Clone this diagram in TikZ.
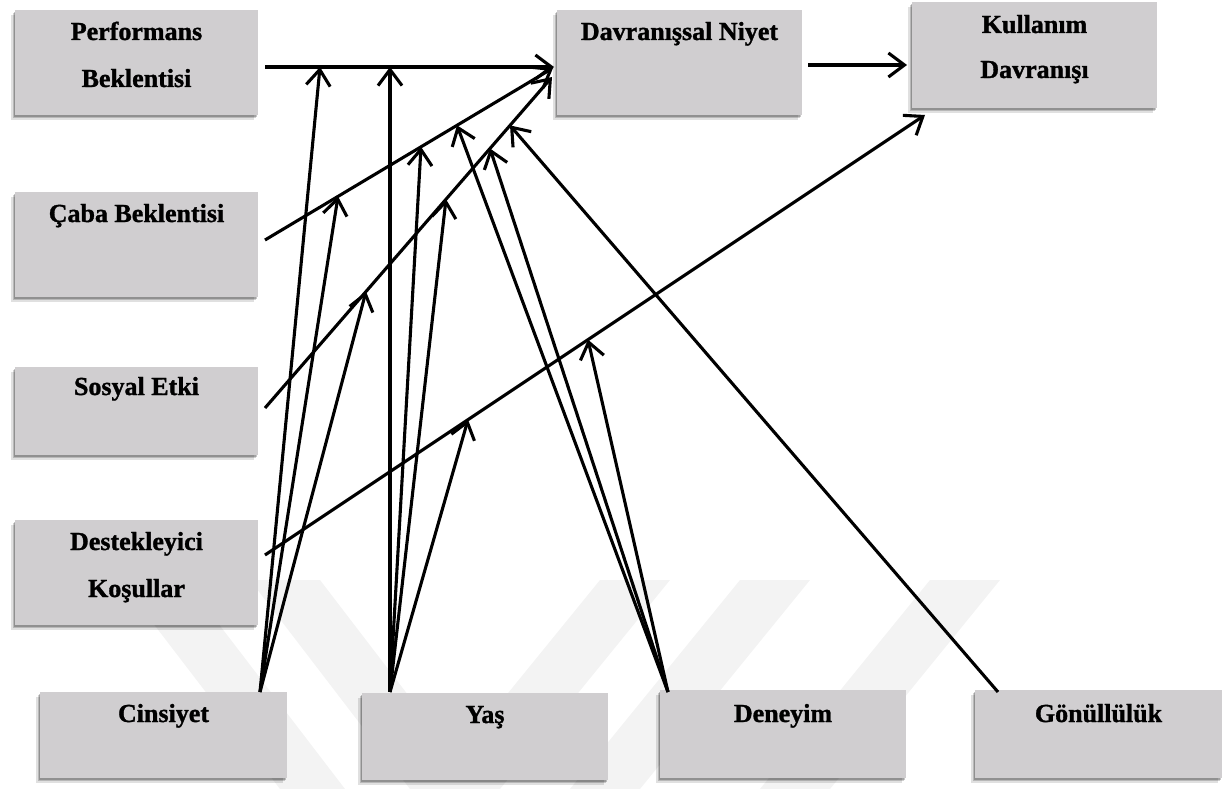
\documentclass[tikz,border=0pt]{standalone}
\usepackage{fontspec}
\setmainfont{Liberation Serif}[BoldFont={Liberation Serif Bold},
  BoldFeatures={FakeBold=1.2}]
\usetikzlibrary{arrows.meta,calc,shadows}
\definecolor{boxgray}{RGB}{208,206,208}
\definecolor{markgray}{RGB}{243,243,243}

\begin{document}
\begin{tikzpicture}[x=1pt,y=-1pt,
  box/.style={fill=boxgray, draw=none, anchor=north west, inner sep=0pt,
    general shadow={fill=black, opacity=0.12,
      shadow xshift=-4pt, shadow yshift=-5pt},
    general shadow={fill=black, opacity=0.18,
      shadow xshift=-2.5pt, shadow yshift=-3.2pt},
    general shadow={fill=black, opacity=0.22,
      shadow xshift=-1.2pt, shadow yshift=-1.6pt}},
  lbl/.style={font=\fontsize{26}{47}\selectfont\bfseries, align=center,
    anchor=base, inner sep=0pt},
  link/.style={line width=3.1pt,
    -{Straight Barb[length=16pt,width=24pt,line width=3.1pt]}}]

\useasboundingbox (0,0) rectangle (1223,789);

% faint diagonal watermark bands
\begin{scope}
  \clip (0,560) rectangle (1223,789);
  \fill[markgray] (120,580) -- (185,580) -- (345,789) -- (280,789) -- cycle;
  \fill[markgray] (250,580) -- (320,580) -- (480,789) -- (410,789) -- cycle;
  \fill[markgray] (600,580) -- (670,580) -- (500,789) -- (430,789) -- cycle;
  \fill[markgray] (740,580) -- (810,580) -- (640,789) -- (570,789) -- cycle;
  \fill[markgray] (930,580) -- (1000,580) -- (830,789) -- (760,789) -- cycle;
\end{scope}

% boxes
\node[box, minimum width=243, minimum height=105] (perf) at (15,10) {};
\node[box, minimum width=243, minimum height=105] (caba) at (15,192) {};
\node[box, minimum width=243, minimum height=88]  (sos)  at (15,367) {};
\node[box, minimum width=243, minimum height=105] (des)  at (15,520) {};
\node[box, minimum width=245, minimum height=105] (dn)   at (557,10) {};
\node[box, minimum width=245, minimum height=106] (kd)   at (912,2) {};
\node[box, minimum width=247, minimum height=86]  (cins) at (40,692) {};
\node[box, minimum width=246, minimum height=87]  (yas)  at (362,693) {};
\node[box, minimum width=246, minimum height=88]  (den)  at (660,690) {};
\node[box, minimum width=247, minimum height=88]  (gon)  at (975,690) {};

% labels (base anchor sits on the last line)
\node[lbl] (perf-t) at (136.5,87)  {Performans\\Beklentisi};
\node[lbl] (caba-t) at (136.5,222) {Çaba Beklentisi};
\node[lbl] (sos-t)  at (136.5,395) {Sosyal Etki};
\node[lbl] (des-t)  at (136.5,597) {Destekleyici\\Koşullar};
\node[lbl] (dn-t)   at (679.5,40)  {Davranışsal Niyet};
\node[lbl, font=\fontsize{26}{45}\selectfont\bfseries] (kd-t) at (1034.5,78) {Kullanım\\Davranışı};
\node[lbl] (cins-t) at (163.5,722) {Cinsiyet};
\node[lbl] (yas-t)  at (485,723)   {Yaş};
\node[lbl] (den-t)  at (783,722)   {Deneyim};
\node[lbl] (gon-t)  at (1098.5,722) {Gönüllülük};

% line ends next to the boxes
\coordinate (perf-o) at (265,67);
\coordinate (caba-o) at (265,240);
\coordinate (sos-o)  at (265,408);
\coordinate (des-o)  at (265,555);
\coordinate (dn-i1)  at (554,67);
\coordinate (dn-i2)  at (553,68);
\coordinate (dn-i3)  at (552,77);
\coordinate (dn-o)   at (808,65);
\coordinate (kd-i1)  at (907,65);
\coordinate (kd-i2)  at (925,115);
\coordinate (cins-o) at (260,692);
\coordinate (yas-o)  at (390,692);
\coordinate (den-o)  at (668,692);
\coordinate (gon-o)  at (998,692);

% main paths
\draw[link] (perf-o) -- (dn-i1);
\draw[link] (caba-o) -- (dn-i2);
\draw[link] (sos-o)  -- (dn-i3);
\draw[link] (des-o)  -- (kd-i2);
\draw[link] (dn-o)   -- (kd-i1);

% points where the moderating arrows meet the paths
\coordinate (p1) at (320,67);
\coordinate (p2) at (390,67);
\coordinate (c1) at ($(caba-o)!0.2535!(dn-i2)$);
\coordinate (c2) at ($(caba-o)!0.5417!(dn-i2)$);
\coordinate (c3) at ($(caba-o)!0.6667!(dn-i2)$);
\coordinate (s1) at ($(sos-o)!0.3519!(dn-i3)$);
\coordinate (s2) at ($(sos-o)!0.6307!(dn-i3)$);
\coordinate (s3) at ($(sos-o)!0.7840!(dn-i3)$);
\coordinate (s4) at ($(sos-o)!0.8537!(dn-i3)$);
\coordinate (d1) at ($(des-o)!0.3076!(kd-i2)$);
\coordinate (d2) at ($(des-o)!0.4894!(kd-i2)$);

% moderators
\draw[link] (cins-o) -- (p1);
\draw[link] (cins-o) -- (c1);
\draw[link] (cins-o) -- (s1);
\draw[link] (yas-o) -- (p2);
\draw[link] (yas-o) -- (c2);
\draw[link] (yas-o) -- (s2);
\draw[link] (yas-o) -- (d1);
\draw[link] (den-o) -- (c3);
\draw[link] (den-o) -- (s3);
\draw[link] (den-o) -- (d2);
\draw[link] (gon-o) -- (s4);

\end{tikzpicture}
\end{document}
